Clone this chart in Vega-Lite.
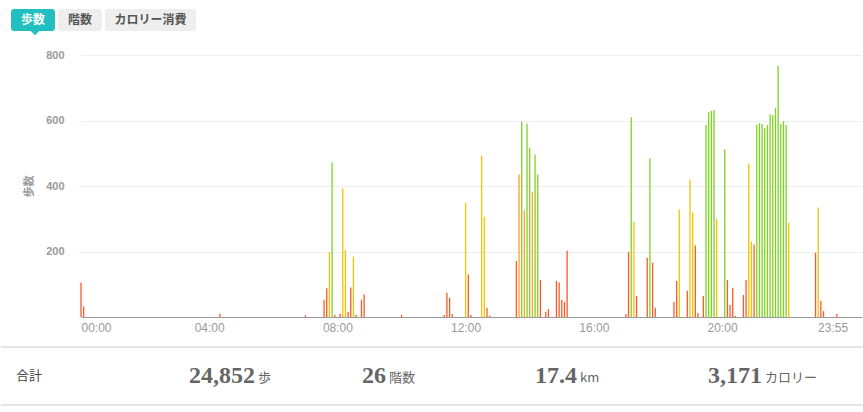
{
  "$schema": "https://vega.github.io/schema/vega-lite/v6.json",
  "description": "歩数 per 5-minute interval over one day, with daily totals",
  "padding": {"left": 0, "top": 9, "right": 0, "bottom": 0},
  "config": {
    "view": {"stroke": null},
    "font": "Liberation Sans"
  },
  "columns": 1,
  "align": "none",
  "spacing": 13,
  "concat": [
    {
      "spacing": 3,
      "hconcat": [
        {
          "width": 7,
          "height": 22,
          "data": {"values": [{}]},
          "mark": {"type": "text", "text": ""}
        },
        {
          "width": 44,
          "height": 22,
          "view": {"fill": "#21bfbf", "cornerRadius": 3, "stroke": null},
          "data": {"values": [{"label": "歩数"}]},
          "layer": [
            {
              "mark": {"type": "point", "shape": "M-1,-0.5L1,-0.5L0,0.5Z", "filled": true, "opacity": 1, "size": 81, "color": "#21bfbf", "yOffset": 13, "xOffset": 2},
              "encoding": {}
            },
            {
              "mark": {"type": "text", "font": "Noto Sans CJK JP", "fontWeight": "bold", "fontSize": 12, "color": "#ffffff"},
              "encoding": {"text": {"field": "label"}}
            }
          ]
        },
        {
          "width": 44,
          "height": 22,
          "view": {"fill": "#eeeeee", "cornerRadius": 3, "stroke": null},
          "data": {"values": [{"label": "階数"}]},
          "mark": {"type": "text", "font": "Noto Sans CJK JP", "fontWeight": "bold", "fontSize": 12, "color": "#555555"},
          "encoding": {"text": {"field": "label"}}
        },
        {
          "width": 91,
          "height": 22,
          "view": {"fill": "#eeeeee", "cornerRadius": 3, "stroke": null},
          "data": {"values": [{"label": "カロリー消費"}]},
          "mark": {"type": "text", "font": "Noto Sans CJK JP", "fontWeight": "bold", "fontSize": 12, "color": "#555555"},
          "encoding": {"text": {"field": "label"}}
        }
      ]
    },
    {
      "spacing": 0,
      "hconcat": [
        {
          "width": 22,
          "height": 1,
          "data": {"values": [{}]},
          "mark": {"type": "text", "text": ""}
        },
        {
          "width": 781,
          "height": 262,
          "data": {
            "values": [
              {"t": "00:00", "steps": 105, "level": "low"},
              {"t": "00:05", "steps": 32, "level": "low"},
              {"t": "04:20", "steps": 10, "level": "low"},
              {"t": "07:00", "steps": 5, "level": "low"},
              {"t": "07:35", "steps": 53, "level": "low"},
              {"t": "07:40", "steps": 88, "level": "low"},
              {"t": "07:45", "steps": 198, "level": "medium"},
              {"t": "07:50", "steps": 472, "level": "high"},
              {"t": "07:55", "steps": 7, "level": "low"},
              {"t": "08:05", "steps": 10, "level": "low"},
              {"t": "08:10", "steps": 392, "level": "medium"},
              {"t": "08:15", "steps": 204, "level": "medium"},
              {"t": "08:20", "steps": 16, "level": "low"},
              {"t": "08:25", "steps": 90, "level": "low"},
              {"t": "08:30", "steps": 184, "level": "medium"},
              {"t": "08:35", "steps": 7, "level": "low"},
              {"t": "08:45", "steps": 53, "level": "low"},
              {"t": "08:50", "steps": 69, "level": "low"},
              {"t": "10:00", "steps": 7, "level": "low"},
              {"t": "11:20", "steps": 6, "level": "low"},
              {"t": "11:25", "steps": 74, "level": "low"},
              {"t": "11:30", "steps": 59, "level": "low"},
              {"t": "11:35", "steps": 9, "level": "low"},
              {"t": "12:00", "steps": 349, "level": "medium"},
              {"t": "12:05", "steps": 130, "level": "low"},
              {"t": "12:10", "steps": 6, "level": "low"},
              {"t": "12:30", "steps": 493, "level": "medium"},
              {"t": "12:35", "steps": 306, "level": "medium"},
              {"t": "12:40", "steps": 28, "level": "low"},
              {"t": "12:45", "steps": 4, "level": "low"},
              {"t": "13:35", "steps": 171, "level": "low"},
              {"t": "13:40", "steps": 435, "level": "brisk"},
              {"t": "13:45", "steps": 596, "level": "high"},
              {"t": "13:50", "steps": 326, "level": "brisk"},
              {"t": "13:55", "steps": 591, "level": "high"},
              {"t": "14:00", "steps": 517, "level": "high"},
              {"t": "14:05", "steps": 383, "level": "brisk"},
              {"t": "14:10", "steps": 496, "level": "high"},
              {"t": "14:15", "steps": 435, "level": "high"},
              {"t": "14:20", "steps": 113, "level": "low"},
              {"t": "14:30", "steps": 16, "level": "low"},
              {"t": "14:35", "steps": 24, "level": "low"},
              {"t": "14:50", "steps": 110, "level": "low"},
              {"t": "14:55", "steps": 105, "level": "low"},
              {"t": "15:00", "steps": 52, "level": "low"},
              {"t": "15:05", "steps": 46, "level": "low"},
              {"t": "15:10", "steps": 202, "level": "low"},
              {"t": "17:00", "steps": 9, "level": "low"},
              {"t": "17:05", "steps": 199, "level": "low"},
              {"t": "17:10", "steps": 610, "level": "high"},
              {"t": "17:15", "steps": 291, "level": "medium"},
              {"t": "17:20", "steps": 64, "level": "low"},
              {"t": "17:40", "steps": 181, "level": "low"},
              {"t": "17:45", "steps": 484, "level": "high"},
              {"t": "17:50", "steps": 166, "level": "low"},
              {"t": "17:55", "steps": 28, "level": "low"},
              {"t": "18:30", "steps": 46, "level": "low"},
              {"t": "18:35", "steps": 110, "level": "low"},
              {"t": "18:40", "steps": 328, "level": "medium"},
              {"t": "18:55", "steps": 80, "level": "low"},
              {"t": "19:00", "steps": 420, "level": "medium"},
              {"t": "19:05", "steps": 319, "level": "medium"},
              {"t": "19:10", "steps": 218, "level": "low"},
              {"t": "19:15", "steps": 12, "level": "low"},
              {"t": "19:25", "steps": 64, "level": "low"},
              {"t": "19:30", "steps": 586, "level": "high"},
              {"t": "19:35", "steps": 625, "level": "high"},
              {"t": "19:40", "steps": 629, "level": "high"},
              {"t": "19:45", "steps": 632, "level": "high"},
              {"t": "19:50", "steps": 300, "level": "medium"},
              {"t": "20:05", "steps": 512, "level": "high"},
              {"t": "20:10", "steps": 113, "level": "low"},
              {"t": "20:15", "steps": 37, "level": "low"},
              {"t": "20:20", "steps": 89, "level": "low"},
              {"t": "20:25", "steps": 3, "level": "low"},
              {"t": "20:40", "steps": 67, "level": "low"},
              {"t": "20:45", "steps": 113, "level": "low"},
              {"t": "20:50", "steps": 469, "level": "medium"},
              {"t": "20:55", "steps": 230, "level": "medium"},
              {"t": "21:00", "steps": 221, "level": "low"},
              {"t": "21:05", "steps": 586, "level": "high"},
              {"t": "21:10", "steps": 592, "level": "high"},
              {"t": "21:15", "steps": 589, "level": "high"},
              {"t": "21:20", "steps": 576, "level": "high"},
              {"t": "21:25", "steps": 586, "level": "high"},
              {"t": "21:30", "steps": 619, "level": "high"},
              {"t": "21:35", "steps": 616, "level": "high"},
              {"t": "21:40", "steps": 638, "level": "high"},
              {"t": "21:45", "steps": 767, "level": "high"},
              {"t": "21:50", "steps": 589, "level": "high"},
              {"t": "21:55", "steps": 598, "level": "high"},
              {"t": "22:00", "steps": 586, "level": "high"},
              {"t": "22:05", "steps": 288, "level": "medium"},
              {"t": "22:55", "steps": 196, "level": "low"},
              {"t": "23:00", "steps": 334, "level": "medium"},
              {"t": "23:05", "steps": 49, "level": "low"},
              {"t": "23:10", "steps": 18, "level": "low"},
              {"t": "23:35", "steps": 9, "level": "low"}
            ],
            "format": {"parse": {"t": "date:'%H:%M'"}}
          },
          "mark": {"type": "bar", "width": 1.3},
          "encoding": {
            "x": {
              "field": "t",
              "type": "temporal",
              "scale": {
                "nice": false,
                "padding": 0,
                "domain": [
                  {"year": 1900, "month": 1, "date": 1, "hours": 0, "minutes": 0},
                  {"year": 1900, "month": 1, "date": 2, "hours": 0, "minutes": 22}
                ]
              },
              "axis": {
                "title": null,
                "format": "%H:%M",
                "values": [
                  {"year": 1900, "month": 1, "date": 1, "hours": 0, "minutes": 0},
                  {"year": 1900, "month": 1, "date": 1, "hours": 4, "minutes": 0},
                  {"year": 1900, "month": 1, "date": 1, "hours": 8, "minutes": 0},
                  {"year": 1900, "month": 1, "date": 1, "hours": 12, "minutes": 0},
                  {"year": 1900, "month": 1, "date": 1, "hours": 16, "minutes": 0},
                  {"year": 1900, "month": 1, "date": 1, "hours": 20, "minutes": 0},
                  {"year": 1900, "month": 1, "date": 1, "hours": 23, "minutes": 55}
                ],
                "labelFlush": 20,
                "labelOverlap": false,
                "ticks": false,
                "grid": false,
                "domainColor": "#9a9a9a",
                "labelColor": "#9a9a9a",
                "labelFontSize": 12,
                "labelPadding": 5
              }
            },
            "y": {
              "field": "steps",
              "type": "quantitative",
              "scale": {"domain": [0, 800], "nice": false},
              "axis": {
                "title": "歩数",
                "values": [200, 400, 600, 800],
                "domain": false,
                "ticks": false,
                "grid": true,
                "gridColor": "#eeeeee",
                "labelColor": "#9a9a9a",
                "labelFontWeight": "bold",
                "labelFontSize": 11,
                "labelPadding": 17,
                "titleFont": "Noto Sans CJK JP",
                "titleFontSize": 11,
                "titleFontWeight": "bold",
                "titleColor": "#9a9a9a",
                "titlePadding": 11
              }
            },
            "color": {
              "field": "level",
              "type": "nominal",
              "scale": {
                "domain": ["low", "medium", "brisk", "high"],
                "range": ["#fa5a28", "#f8c200", "#f5a623", "#7ed321"]
              },
              "legend": null
            }
          }
        }
      ]
    },
    {
      "width": 863,
      "height": 58,
      "layer": [
        {
          "data": {"values": [{"edge": "top"}, {"edge": "bottom"}]},
          "mark": {"type": "rule", "color": "#cccccc", "strokeWidth": 1},
          "encoding": {
            "y": {"field": "edge", "type": "nominal", "scale": {"type": "point", "domain": ["top", "bottom"], "padding": 0}, "axis": null}
          }
        },
        {
          "data": {"values": [{"item": "total", "label": "合計"}]},
          "mark": {"type": "text", "align": "left", "baseline": "middle", "font": "Noto Sans CJK JP", "fontSize": 13, "color": "#444444"},
          "encoding": {
            "x": {"field": "item", "type": "nominal", "scale": {"type": "point", "domain": ["total", "steps", "floors", "distance", "calories"], "padding": 0.494, "align": 0.0877}, "axis": null},
            "text": {"field": "label"}
          }
        },
        {
          "data": {
            "values": [
              {"item": "steps", "value": "24,852", "unit": "歩"},
              {"item": "floors", "value": "26", "unit": "階数"},
              {"item": "distance", "value": "17.4", "unit": "km"},
              {"item": "calories", "value": "3,171", "unit": "カロリー"}
            ]
          },
          "layer": [
            {
              "mark": {"type": "text", "align": "left", "baseline": "middle", "font": "Liberation Serif", "fontWeight": "bold", "fontSize": 24, "color": "#666666"},
              "encoding": {
                "x": {"field": "item", "type": "nominal", "scale": {"type": "point", "domain": ["total", "steps", "floors", "distance", "calories"], "padding": 0.494, "align": 0.0877}, "axis": null},
                "text": {"field": "value"}
              }
            },
            {
              "mark": {
                "type": "text",
                "align": "left",
                "baseline": "middle",
                "font": "Noto Sans CJK JP",
                "fontSize": 13,
                "color": "#666666",
                "dy": 2,
                "dx": {"expr": "length(datum.value) * 12 - (length(datum.value) - length(replace(datum.value, regexp('[,.]', 'g'), ''))) * 6 + 3"}
              },
              "encoding": {
                "x": {"field": "item", "type": "nominal", "scale": {"type": "point", "domain": ["total", "steps", "floors", "distance", "calories"], "padding": 0.494, "align": 0.0877}, "axis": null},
                "text": {"field": "unit"}
              }
            }
          ]
        }
      ]
    }
  ]
}
